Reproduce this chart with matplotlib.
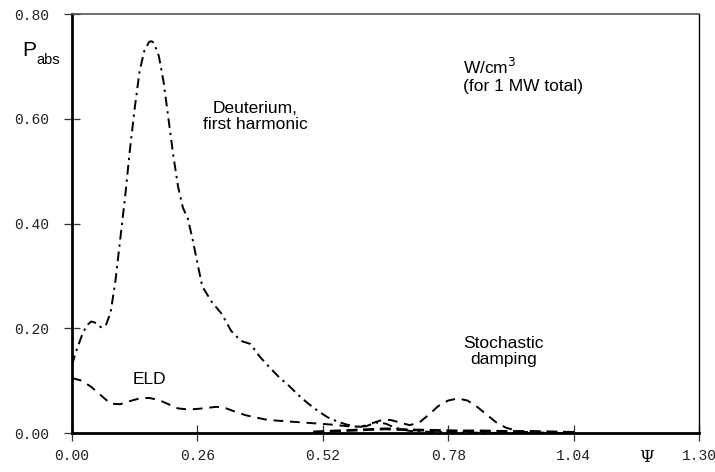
import numpy as np
import matplotlib
matplotlib.use("Agg")
import matplotlib.pyplot as plt

# Deuterium first harmonic (dash-dot)
psi_d = [0.0, 0.01, 0.02, 0.03, 0.04, 0.05, 0.06, 0.07, 0.08, 0.09, 0.10, 0.11, 0.12, 0.13,
         0.14, 0.15, 0.16, 0.165, 0.17, 0.18, 0.19, 0.20, 0.21, 0.22, 0.23, 0.24, 0.25, 0.27,
         0.29, 0.31, 0.33, 0.35, 0.37, 0.39, 0.41, 0.43, 0.45, 0.47, 0.49, 0.51, 0.53, 0.55,
         0.57, 0.59, 0.61, 0.63, 0.65, 0.67, 0.70, 0.75, 0.80, 0.90, 1.04]
p_d = [0.13, 0.16, 0.185, 0.205, 0.213, 0.21, 0.202, 0.205, 0.23, 0.29, 0.37, 0.45, 0.54, 0.62,
       0.69, 0.73, 0.747, 0.748, 0.745, 0.72, 0.67, 0.60, 0.53, 0.47, 0.43, 0.41, 0.37, 0.28,
       0.25, 0.228, 0.195, 0.176, 0.17, 0.145, 0.125, 0.106, 0.09, 0.072, 0.056, 0.042, 0.03, 0.022,
       0.016, 0.012, 0.013, 0.02, 0.018, 0.01, 0.004, 0.002, 0.001, 0.0, 0.0]

# ELD + stochastic damping (dashed)
psi_e = [0.0, 0.02, 0.04, 0.06, 0.08, 0.10, 0.12, 0.14, 0.16, 0.18, 0.20, 0.22, 0.24, 0.26,
         0.28, 0.30, 0.32, 0.34, 0.36, 0.38, 0.40, 0.42, 0.45, 0.48, 0.51, 0.54, 0.57, 0.60,
         0.62, 0.64, 0.66, 0.68, 0.70, 0.72, 0.74, 0.76, 0.78, 0.80, 0.82, 0.84, 0.86, 0.88,
         0.90, 0.92, 0.94, 0.97, 1.0]
p_e = [0.105, 0.1, 0.088, 0.072, 0.056, 0.055, 0.061, 0.066, 0.067, 0.063, 0.055, 0.047, 0.045, 0.046,
       0.048, 0.05, 0.047, 0.04, 0.034, 0.03, 0.026, 0.024, 0.022, 0.02, 0.018, 0.016, 0.013, 0.012,
       0.018, 0.024, 0.025, 0.02, 0.015, 0.02, 0.035, 0.052, 0.062, 0.066, 0.062, 0.05, 0.035, 0.02,
       0.01, 0.005, 0.002, 0.001, 0.0]

# small contribution along the baseline
psi_o = [0.50, 0.55, 0.60, 0.65, 0.70, 0.75, 0.80, 0.85, 0.90, 0.95, 1.00, 1.05]
p_o = [0.002, 0.004, 0.006, 0.008, 0.006, 0.005, 0.004, 0.004, 0.003, 0.003, 0.002, 0.001]

x_ticks = [0.00, 0.26, 0.52, 0.78, 1.04, 1.30]
y_ticks = [0.00, 0.20, 0.40, 0.60, 0.80]

fig = plt.figure(figsize=(7.15, 4.72), dpi=100)
ax = fig.add_axes([0.1007, 0.0826, 0.8769, 0.8877])

ax.plot(psi_d, p_d, color="black", lw=1.4, dashes=(5, 2.5, 1.2, 2.5))
ax.plot(psi_e, p_e, color="black", lw=1.4, dashes=(5, 3.5))
ax.plot(psi_o, p_o, color="black", lw=2.0, dashes=(4, 2))

ax.set_xlim(0, 1.30)
ax.set_ylim(0, 0.80)
ax.set_xticks(x_ticks)
ax.set_yticks(y_ticks)
ax.set_xticklabels([f"{v:.2f}" for v in x_ticks])
ax.set_yticklabels([f"{v:.2f}" for v in y_ticks])
ax.tick_params(direction="inout", length=11, width=0.9, labelsize=10.5, color="#333333")
ax.tick_params(axis="y", pad=11)
ax.tick_params(axis="x", pad=6)
for lab in ax.get_xticklabels() + ax.get_yticklabels():
    lab.set_family("Liberation Mono")
    lab.set_color("#222222")

ax.spines["left"].set_linewidth(2.0)
ax.spines["bottom"].set_linewidth(2.0)
ax.spines["right"].set_linewidth(1.0)
ax.spines["top"].set_linewidth(1.2)
ax.spines["top"].set_color("#555555")

txt = dict(family="Liberation Sans", fontsize=12.5, color="black")
ax.text(0.38, 0.605, "Deuterium,\nfirst harmonic", ha="center", va="center", linespacing=1.1, **txt)
ax.text(0.16, 0.103, "ELD", ha="center", va="center", **txt)
ax.text(0.894, 0.156, "Stochastic\ndamping", ha="center", va="center", linespacing=1.1, **txt)
ax.text(0.81, 0.682, "W/cm$^3$\n(for 1 MW total)", ha="left", va="center", linespacing=1.15, **txt)

fig.text(22 / 715, 1 - 50 / 472, "P", family="Liberation Sans", fontsize=15, va="center")
fig.text(36 / 715, 1 - 60 / 472, "abs", family="Liberation Sans", fontsize=10.5, va="center")
fig.text(647 / 715, 1 - 457 / 472, "Ψ", family="DejaVu Serif", fontsize=12, ha="center", va="center")

fig.savefig("out.png", dpi=100)
